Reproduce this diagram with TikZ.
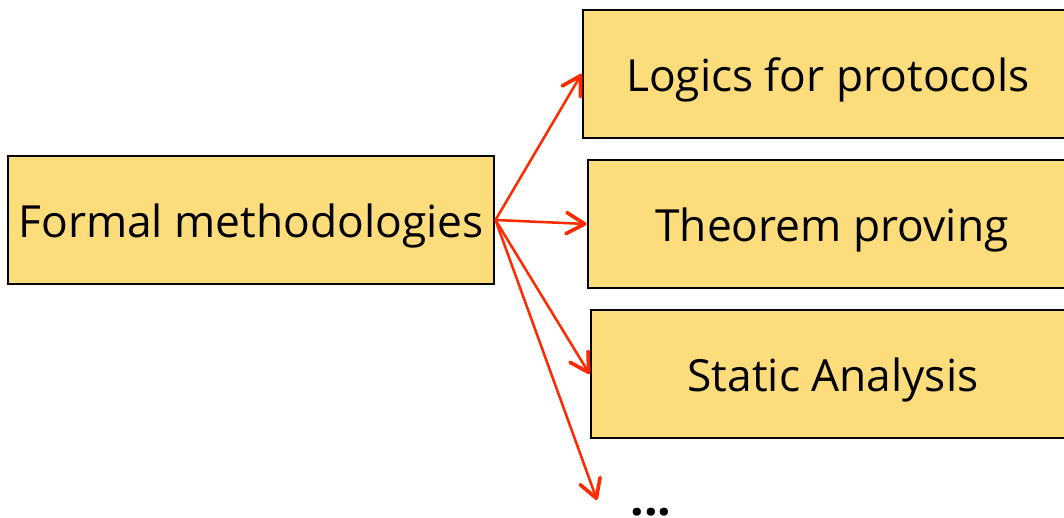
\documentclass[tikz,border=0pt]{standalone}
\usepackage{fontspec}
\setmainfont{Open Sans}
\usetikzlibrary{arrows.meta}
\definecolor{boxyellow}{HTML}{FDDC7C}
\definecolor{arrowred}{HTML}{FF2B00}
\tikzset{
  topic/.style={draw, line width=2pt, fill=boxyellow, minimum height=3.2cm,
    text height=25.5pt, text depth=0pt, font=\fontsize{31.5}{38}\selectfont},
  link/.style={draw=arrowred, line width=1.8pt,
    -{Straight Barb[length=13pt, width=15pt, line width=2.6pt, round]}}
}
\begin{document}
\begin{tikzpicture}[x=0.025cm, y=-0.025cm]
\useasboundingbox (0,0) rectangle (1064,518);
\clip (0,0) rectangle (1064,518);
% root and the three branches
\node[topic, minimum width=12.15cm] (fm) at (251,220) {Formal methodologies};
\node[topic, minimum width=12.25cm] (logics) at (828,74) {Logics for protocols};
\node[topic, minimum width=12.2cm] (thm) at (832,224) {Theorem proving};
\node[topic, minimum width=12.1cm] (static) at (833,374) {Static Analysis};
\node[anchor=base, inner sep=0pt, text depth=0pt, font=\fontsize{34}{40}\bfseries] (more) at (651,515) {...};
\coordinate (moreend) at (597,500);
% arrows
\draw[link] (fm.east) -- (logics.west);
\draw[link] (fm.east) -- (thm.west);
\draw[link] (fm.east) -- (static.west);
\draw[link] (fm.east) -- (moreend);
\end{tikzpicture}
\end{document}
